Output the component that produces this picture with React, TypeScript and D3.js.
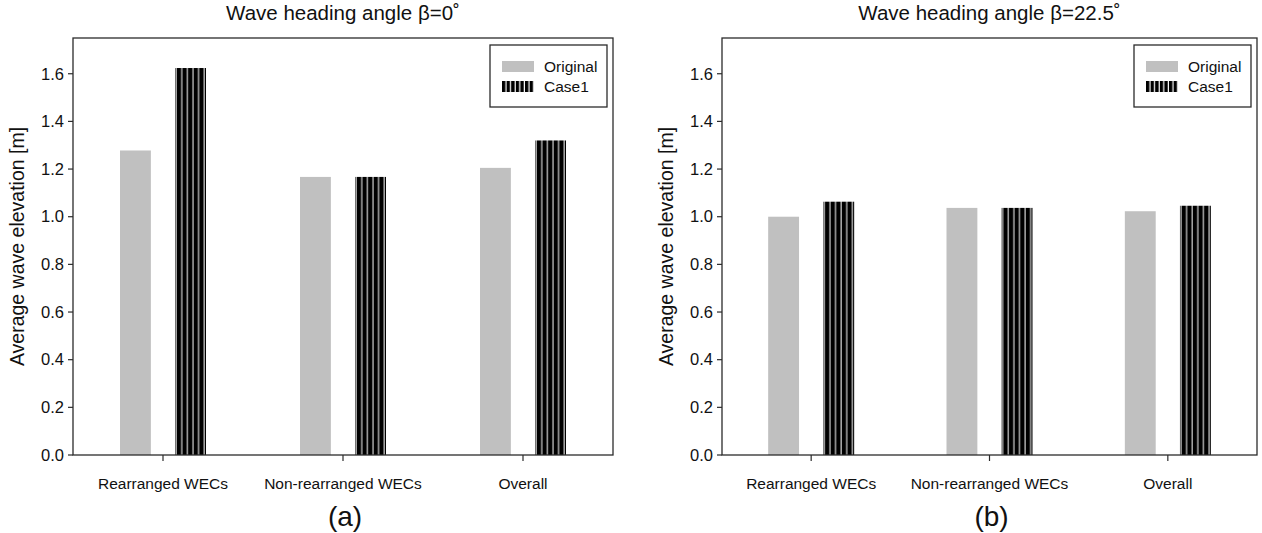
import React from "react";
import * as d3 from "d3";

// Categories along the x axis
const categories = ["Rearranged WECs", "Non-rearranged WECs", "Overall"];
// Series names
const seriesNames = ["Original", "Case1"];
// Average wave elevation [m], wave heading angle 0°
const originalBeta0 = [1.278, 1.167, 1.205];
const case1Beta0 = [1.624, 1.167, 1.32];
// Average wave elevation [m], wave heading angle 22.5°
const originalBeta225 = [1.0, 1.037, 1.023];
const case1Beta225 = [1.063, 1.037, 1.046];
// Y axis ticks
const yTicks = [0, 0.2, 0.4, 0.6, 0.8, 1.0, 1.2, 1.4, 1.6];
const yMax = 1.75;

const FONT = "'Liberation Sans', Arial, Helvetica, sans-serif";
const GRAY = "#c0c0c0";
const FRAME = "#2b2b2b";

type PanelProps = {
  id: string;
  x0: number;
  x1: number;
  title: string;
  caption: string;
  original: number[];
  case1: number[];
};

const Y0 = 38;
const Y1 = 455;

function Panel({ id, x0, x1, title, caption, original, case1 }: PanelProps) {
  const y = d3.scaleLinear().domain([0, yMax]).range([Y1, Y0]);
  const x = d3.scaleBand<string>().domain(categories).range([x0, x1]).padding(0);
  const inner = d3
    .scaleBand<string>()
    .domain(seriesNames)
    .range([-43, 43])
    .paddingInner(0.44);
  const values: Record<string, number[]> = { Original: original, Case1: case1 };
  const cx = (x0 + x1) / 2;
  const bw = inner.bandwidth();

  const legendW = 117;
  const legendX = x1 - 6 - legendW;
  const legendY = 45;

  return (
    <g>
      <defs>
        {categories.map((c, i) => {
          const bx = (x(c) as number) + x.bandwidth() / 2 + (inner("Case1") as number);
          return (
            <pattern
              key={c}
              id={`${id}-stripe-${i}`}
              patternUnits="userSpaceOnUse"
              x={bx}
              y={0}
              width={5.6}
              height={10}
            >
              <rect x={0} y={0} width={5.6} height={10} fill="#000" />
              <rect x={0.5} y={0} width={1.1} height={10} fill="#e6e6e6" />
            </pattern>
          );
        })}
        <pattern
          id={`${id}-legend-stripe`}
          patternUnits="userSpaceOnUse"
          x={legendX + 12}
          y={0}
          width={4.6}
          height={10}
        >
          <rect x={0} y={0} width={4.6} height={10} fill="#000" />
          <rect x={3.4} y={0} width={1.2} height={10} fill="#ffffff" />
        </pattern>
      </defs>

      {/* title */}
      <text x={cx} y={20} textAnchor="middle" fontFamily={FONT} fontSize={20.5} fill="#111">
        {title}
      </text>

      {/* bars */}
      {categories.map((c, i) =>
        seriesNames.map((s) => {
          const v = values[s][i];
          const bx = (x(c) as number) + x.bandwidth() / 2 + (inner(s) as number);
          return (
            <rect
              key={c + s}
              x={bx}
              y={y(v)}
              width={bw}
              height={y(0) - y(v)}
              fill={s === "Original" ? GRAY : `url(#${id}-stripe-${i})`}
            />
          );
        })
      )}

      {/* frame */}
      <rect x={x0} y={Y0} width={x1 - x0} height={Y1 - Y0} fill="none" stroke={FRAME} strokeWidth={1.3} />

      {/* y ticks */}
      {yTicks.map((t) => (
        <g key={t}>
          <line x1={x0 - 5} x2={x0} y1={y(t)} y2={y(t)} stroke={FRAME} strokeWidth={1.2} />
          <text
            x={x0 - 9}
            y={y(t)}
            dy="0.35em"
            textAnchor="end"
            fontFamily={FONT}
            fontSize={16.5}
            fill="#111"
          >
            {t.toFixed(1)}
          </text>
        </g>
      ))}

      {/* x ticks */}
      {categories.map((c) => {
        const tx = (x(c) as number) + x.bandwidth() / 2;
        return (
          <g key={c}>
            <line x1={tx} x2={tx} y1={Y1} y2={Y1 + 6} stroke={FRAME} strokeWidth={1.2} />
            <text x={tx} y={489} textAnchor="middle" fontFamily={FONT} fontSize={15.5} fill="#111">
              {c}
            </text>
          </g>
        );
      })}

      {/* y axis label */}
      <text
        transform={`translate(${x0 - 56},${(Y0 + Y1) / 2}) rotate(-90)`}
        textAnchor="middle"
        dy="0.35em"
        fontFamily={FONT}
        fontSize={19.5}
        fill="#111"
      >
        Average wave elevation [m]
      </text>

      {/* legend */}
      <rect x={legendX} y={legendY} width={legendW} height={62} fill="#fff" stroke={FRAME} strokeWidth={1.3} />
      {seriesNames.map((s, i) => (
        <g key={s}>
          <rect
            x={legendX + 12}
            y={legendY + 16 + i * 20}
            width={32}
            height={11}
            fill={s === "Original" ? GRAY : `url(#${id}-legend-stripe)`}
          />
          <text
            x={legendX + 54}
            y={legendY + 27 + i * 20}
            fontFamily={FONT}
            fontSize={15.5}
            fill="#111"
          >
            {s}
          </text>
        </g>
      ))}

      {/* panel caption */}
      <text x={cx + 2} y={526} textAnchor="middle" fontFamily={FONT} fontSize={28} fill="#111">
        {caption}
      </text>
    </g>
  );
}

export default function App() {
  return (
    <svg
      width={1262}
      height={533}
      style={{ position: "absolute", left: 0, top: 0, background: "#fff" }}
    >
      <rect width={1262} height={533} fill="#fff" />
      <Panel
        id="a"
        x0={73}
        x1={613}
        title="Wave heading angle β=0˚"
        caption="(a)"
        original={originalBeta0}
        case1={case1Beta0}
      />
      <Panel
        id="b"
        x0={722}
        x1={1257}
        title="Wave heading angle β=22.5˚"
        caption="(b)"
        original={originalBeta225}
        case1={case1Beta225}
      />
    </svg>
  );
}
